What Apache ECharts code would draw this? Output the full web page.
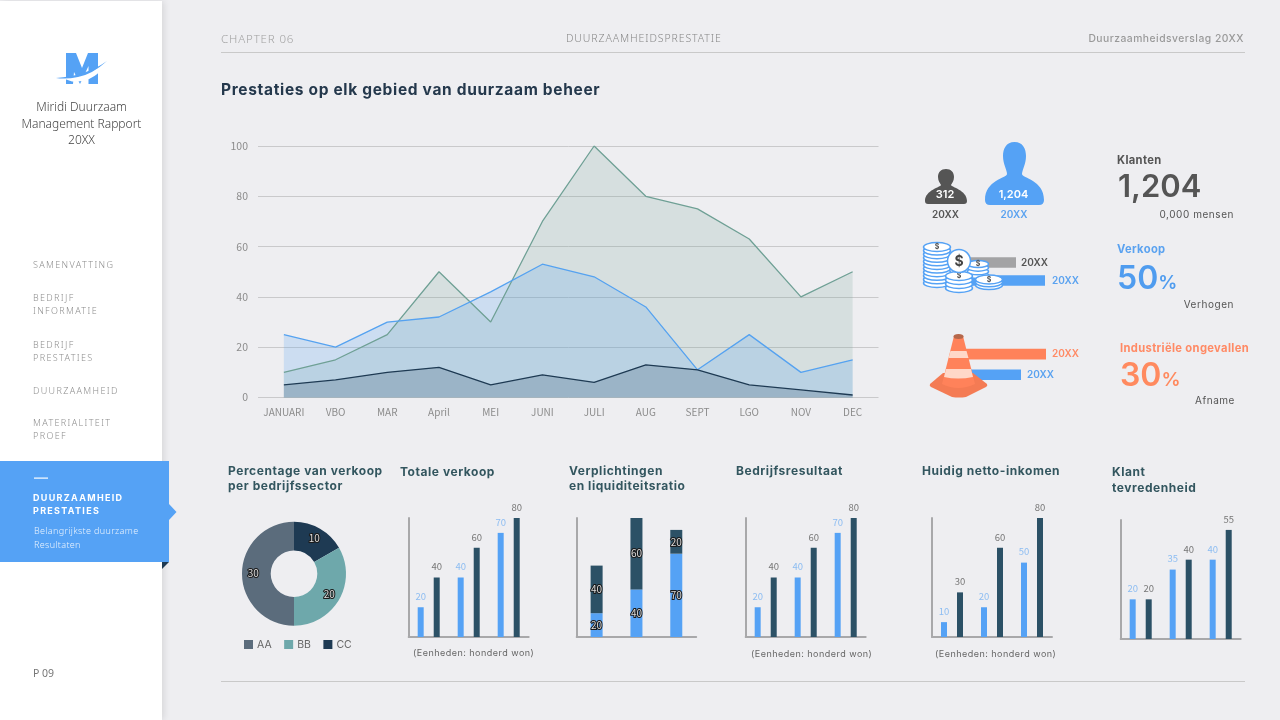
<!DOCTYPE html>
<html><head><meta charset="utf-8">
<script src="https://cdn.jsdelivr.net/npm/echarts@6/dist/echarts.min.js"></script>
<style>
html,body{margin:0;padding:0;width:1280px;height:720px;overflow:hidden;background:#eeeef1;font-family:Inter,"Noto Sans",sans-serif}
#side{position:absolute;left:0;top:1px;width:162px;height:719px;background:#fff;box-shadow:2px 0 7px rgba(0,0,0,.10)}
#active{position:absolute;left:0;top:461px;width:169px;height:101px;background:#55a2f5}
#chart{position:absolute;left:0;top:0;width:1280px;height:720px}
.t{position:absolute;transform:translateY(-50%);white-space:nowrap}
.nav{font:300 9px "Noto Sans";letter-spacing:1.35px;color:#8e8e8e;left:33px;margin-top:-.6px}
.h{font:700 12px Inter;letter-spacing:.55px;color:#33565f;margin-top:-1px}
.u{font:400 9px Inter;letter-spacing:.48px;color:#666}
.line{position:absolute;left:221px;width:1024px;height:1px;background:#c9c9c9}
.kt{font:700 11.2px Inter;letter-spacing:.35px}
.big{font:600 32px Inter;letter-spacing:0}
.big span{font-size:19px}
.sub{font:400 10px Inter;letter-spacing:.55px;color:#555}
.lab{font:600 10px Inter;transform:translate(-50%,-50%)}
</style></head><body>
<div id="side"></div><div id="active"></div>
<div id="chart"></div>

<div class="t" style="left:33px;top:673px;font:400 10.5px 'Noto Sans';color:#777">P 09</div>
<div class="t" style="left:0;width:163px;text-align:center;top:107px;font:300 12px/16.5px 'Noto Sans';color:#444;transform:translateY(-8px);white-space:pre-line">Miridi Duurzaam
Management Rapport
20XX</div>
<div class="t nav" style="top:264.5px">SAMENVATTING</div>
<div class="t nav" style="top:298px">BEDRIJF</div><div class="t nav" style="top:311px">INFORMATIE</div>
<div class="t nav" style="top:344.5px">BEDRIJF</div><div class="t nav" style="top:357.5px">PRESTATIES</div>
<div class="t nav" style="top:390.5px">DUURZAAMHEID</div>
<div class="t nav" style="top:423px">MATERIALITEIT</div><div class="t nav" style="top:435.5px">PROEF</div>
<div class="t" style="left:33px;top:497px;font:700 9px Inter;letter-spacing:1.3px;color:#fff">DUURZAAMHEID</div>
<div class="t" style="left:33px;top:509.5px;font:700 9px Inter;letter-spacing:1.3px;color:#fff">PRESTATIES</div>
<div class="t" style="left:34px;top:530px;font:300 9px 'Noto Sans';letter-spacing:.35px;color:#eaf3fe">Belangrijkste duurzame</div>
<div class="t" style="left:34px;top:544px;font:300 9px 'Noto Sans';letter-spacing:.35px;color:#eaf3fe">Resultaten</div>

<div class="t" style="left:221px;top:38px;font:300 11.5px 'Noto Sans';letter-spacing:.85px;color:#a2a2a2">CHAPTER 06</div>
<div class="t" style="left:566px;top:37.5px;font:300 10.5px 'Noto Sans';letter-spacing:.9px;color:#888">DUURZAAMHEIDSPRESTATIE</div>
<div class="t" style="right:36px;top:38px;font:500 10.3px Inter;letter-spacing:.5px;color:#999">Duurzaamheidsverslag 20XX</div>
<div class="line" style="top:52px"></div><div class="line" style="top:681px"></div>
<div class="t" style="left:221px;top:89px;font:700 15.5px Inter;letter-spacing:.67px;color:#24384c">Prestaties op elk gebied van duurzaam beheer</div>

<div class="t lab" style="left:945px;top:193.5px;color:#fff;font-size:11px">312</div>
<div class="t lab" style="left:1013.5px;top:193.5px;color:#fff;font-size:11px">1,204</div>
<div class="t lab" style="left:945.5px;top:214px;color:#555">20XX</div>
<div class="t lab" style="left:1014px;top:214px;color:#5aa2f0">20XX</div>

<div class="t kt" style="left:1117px;top:160px;color:#555">Klanten</div>
<div class="t big" style="left:1118px;top:185px;color:#555;font-size:31px">1,204</div>
<div class="t sub" style="right:46px;top:213.5px">0,000 mensen</div>
<div class="t kt" style="left:1117px;top:249px;color:#5aa2f0">Verkoop</div>
<div class="t big" style="left:1117px;top:277px;color:#4f9cef">50<span>%</span></div>
<div class="t sub" style="right:46px;top:304px">Verhogen</div>
<div class="t kt" style="left:1120px;top:347.5px;color:#ff8a65">Industriële ongevallen</div>
<div class="t big" style="left:1120px;top:374px;color:#ff8a5f">30<span>%</span></div>
<div class="t sub" style="right:45px;top:400px">Afname</div>

<div class="t h" style="left:228px;top:471px">Percentage van verkoop</div>
<div class="t h" style="left:228px;top:485.5px">per bedrijfssector</div>
<div class="t h" style="left:400px;top:471.5px">Totale verkoop</div>
<div class="t h" style="left:569px;top:471px">Verplichtingen</div>
<div class="t h" style="left:569px;top:486px">en liquiditeitsratio</div>
<div class="t h" style="left:736px;top:471px">Bedrijfsresultaat</div>
<div class="t h" style="left:922px;top:471px">Huidig netto-inkomen</div>
<div class="t h" style="left:1112px;top:472px">Klant</div>
<div class="t h" style="left:1112px;top:487.5px">tevredenheid</div>
<div class="t u" style="left:413px;top:652px">(Eenheden: honderd won)</div>
<div class="t u" style="left:751px;top:653px">(Eenheden: honderd won)</div>
<div class="t u" style="left:935px;top:653px">(Eenheden: honderd won)</div>

<script>
const months = ['JANUARI','VBO','MAR','April','MEI','JUNI','JULI','AUG','SEPT','LGO','NOV','DEC'];
const areaGreen = [10,15,25,50,30,70,100,80,75,63,40,50];
const areaBlue  = [25,20,30,32,42,53,48,36,11,25,10,15];
const areaDark  = [5,7,10,12,5,9,6,13,11,5,3,1];

const donutNames = ['CC','BB','AA'];
const donutValues = [10,20,30];
const legendOrder = ['AA','BB','CC'];

const miniCats = ['a','b','c'];
const totalBlue = [20,40,70];
const totalDark = [40,60,80];
const liabBlue = [20,40,70];
const liabDark = [40,60,20];
const resultBlue = [20,40,70];
const resultDark = [40,60,80];
const netBlue = [10,20,50];
const netDark = [30,60,80];
const satisBlue = [20,35,40];
const satisDark = [20,40,55];

const coinCats = ['grey','blue'];
const coinBars = [56,85];
const coneCats = ['orange','blue'];
const coneBars = [86,61];
const barLabel = '20XX';

const BLUE='#55a2f5', DARK='#2c5166', AXIS='#a8a8aa', FONT='"Noto Sans CJK KR","Noto Sans",sans-serif';
const grids=[],xAxes=[],yAxes=[],series=[];

function addGrid(g,x,y){
  const i=grids.length; grids.push(g);
  xAxes.push(Object.assign({gridIndex:i},x)); yAxes.push(Object.assign({gridIndex:i},y));
  return i;
}
/* main area chart */
const mainGrid=addGrid({left:258,top:146,width:620.5,height:251.5},
 {type:'category',data:months,axisLine:{show:false},axisTick:{show:false},
  axisLabel:{color:'#8c8c8c',fontFamily:FONT,fontSize:10,margin:10,interval:0}},
 {type:'value',min:0,max:100,interval:20,axisLine:{show:false},axisTick:{show:false},
  axisLabel:{color:'#8c8c8c',fontFamily:FONT,fontSize:10.5,margin:10,padding:[0,0,3,0]},
  splitLine:{lineStyle:{color:'#c9c9cb',width:1}}});
[[areaGreen,'#6fa095',.19],[areaBlue,'#55a2f0',.22],[areaDark,'#1e3a53',.2]].forEach(([d,c,a])=>{
  series.push({type:'line',xAxisIndex:mainGrid,yAxisIndex:mainGrid,data:d,symbol:'none',silent:true,
    lineStyle:{color:c,width:1.3},areaStyle:{color:c,opacity:a}});
});
/* small grouped bars */
function grouped(left,top,max,blue,dark){
  const i=addGrid({left,top,width:120,height:119},
    {type:'category',data:miniCats,axisLine:{lineStyle:{color:AXIS,width:2}},axisTick:{show:false},axisLabel:{show:false}},
    {type:'value',min:0,max,axisLine:{show:true,lineStyle:{color:AXIS,width:2}},axisTick:{show:false},axisLabel:{show:false},splitLine:{show:false}});
  series.push({type:'bar',xAxisIndex:i,yAxisIndex:i,data:blue,barWidth:6,barGap:'167%',itemStyle:{color:BLUE},
    label:{show:true,position:'top',distance:6,color:'#8dbdf2',fontFamily:FONT,fontSize:9.5}});
  series.push({type:'bar',xAxisIndex:i,yAxisIndex:i,data:dark,barWidth:6,barGap:'167%',itemStyle:{color:DARK},
    label:{show:true,position:'top',distance:6,color:'#777',fontFamily:FONT,fontSize:9.5}});
}
grouped(408.7,518,80,totalBlue,totalDark);
grouped(745.7,518,80,resultBlue,resultDark);
grouped(932,518,80,netBlue,netDark);
grouped(1120.7,520,60,satisBlue,satisDark);
/* stacked bars */
const st=addGrid({left:576.7,top:518,width:119.5,height:119},
  {type:'category',data:miniCats,axisLine:{lineStyle:{color:AXIS,width:2}},axisTick:{show:false},axisLabel:{show:false}},
  {type:'value',min:0,max:100,axisLine:{show:true,lineStyle:{color:AXIS,width:2}},axisTick:{show:false},axisLabel:{show:false},splitLine:{show:false}});
[[liabBlue,BLUE],[liabDark,DARK]].forEach(([d,c])=>series.push({type:'bar',stack:'s',xAxisIndex:st,yAxisIndex:st,data:d,barWidth:12,itemStyle:{color:c},
  label:{show:true,position:'inside',color:'#dcdcdc',fontFamily:FONT,fontSize:10,textBorderColor:'#1a1a1a',textBorderWidth:2}}));
/* infographic bars */
function hbars(top,height,cats,vals,cols,labCols,dists){
  const i=addGrid({left:960,top,width:100,height},
    {type:'value',min:0,max:100,show:false},
    {type:'category',data:cats,inverse:true,show:false});
  series.push({type:'bar',xAxisIndex:i,yAxisIndex:i,barWidth:10.6,
    data:vals.map((v,k)=>({value:v,itemStyle:{color:cols[k]},label:{color:labCols[k],distance:dists[k]}})),
    label:{show:true,position:'right',formatter:barLabel,fontFamily:'Inter',fontWeight:600,fontSize:10}});
}
hbars(253.5,36,coinCats,coinBars,['#a3a3a5','#55a2f5'],['#555','#5aa2f0'],[5,7]);
hbars(343.8,41.2,coneCats,coneBars,['#ff825a','#55a2f5'],['#ff8a65','#5aa2f0'],[6,6]);
/* donut */
const donutColors={AA:'#5b6c7c',BB:'#6ea8ab',CC:'#1e3a53'};
series.push({type:'pie',center:[294,573.7],radius:[23.3,52],startAngle:90,clockwise:true,silent:true,
  data:donutNames.map((n,i)=>({name:n,value:donutValues[i],itemStyle:{color:donutColors[n]}})),
  label:{show:true,position:'inside',formatter:'{c}',color:'#dcdcdc',fontFamily:FONT,fontSize:10,textBorderColor:'#1a1a1a',textBorderWidth:2},
  labelLine:{show:false}});

/* decorative pictures */
const deco=[];
const Z=60;
let shapeNo=0;
function P(d,z,style){
  const name='decoPath'+(shapeNo++);
  echarts.graphic.registerShape(name,echarts.graphic.extendPath(d,{}));
  deco.push({type:name,z,silent:true,style});
}
function ell(cx,cy,rx,ry){return `M${cx-rx},${cy} A${rx},${ry} 0 1 0 ${cx+rx},${cy} A${rx},${ry} 0 1 0 ${cx-rx},${cy} Z`;}
deco.push({type:'polygon',z:Z,shape:{points:[[162,562],[169,562],[162,569]]},style:{fill:'#1e3a53'}});
deco.push({type:'polygon',z:Z,shape:{points:[[169,504],[176.5,512],[169,520]]},style:{fill:'#55a2f5'}});
deco.push({type:'rect',z:Z,shape:{x:34,y:477.5,width:14,height:1.2},style:{fill:'#fff'}});
/* logo */
P('M66,84 L66,53 L76,53 L82,68 L88,53 L98,53 L98,84 L88.5,84 L88.5,66 L80,84 L74,72 L73,84 Z',Z,{fill:'#55a2f5'});
P('M62,78 Q88,78 107,61 Q96,83 72,81.5 Z',Z+1,{fill:'#fff'});
P('M56,78 Q86,76 107,61 Q92,74.5 78,77 Q66,79.5 56,78 Z',Z+2,{fill:'#55a2f5'});
/* people */
P('M946,169 C941,169 938,172 938,177 C938,181 940,183 941,185 C941,187 925,190 925,201 Q925,204 928,204 L964,204 Q967,204 967,201 C967,190 951,187 951,185 C952,183 954,181 954,177 C954,172 951,169 946,169 Z',Z,{fill:'#555'});
P('M1014.5,142 C1006,142 1003,149 1003,156 C1003,164 1007,170 1007,174 C1007,178 985,180 985,200 Q985,205 990,205 L1039,205 Q1044,205 1044,200 C1044,180 1022,178 1022,174 C1022,170 1026,164 1026,156 C1026,149 1023,142 1014.5,142 Z',Z,{fill:'#55a2f5'});
/* coins */
function stack(cx,topY,rx,layers,z,step){
  const ry=rx*.33;
  for(let k=layers;k>=0;k--){
    P(ell(cx,topY+k*step,rx,ry),z+(layers-k)*.01,{fill:'#fff',stroke:'#55a2f5',lineWidth:1.5});
  }
  deco.push({type:'text',z:z+.5,style:{x:cx,y:topY,text:'$',font:'700 7px Inter',fill:'#555',align:'center',verticalAlign:'middle'}});
}
stack(978,264,10.5,3,Z,3.7);
stack(937,247,13.5,10,Z+1,3.6);
stack(959,276,13.5,3,Z+2,4);
stack(989,279.5,13.5,2,Z+3,2.8);
deco.push({type:'circle',z:Z+4,shape:{cx:959,cy:261,r:11.5},style:{fill:'#fff',stroke:'#55a2f5',lineWidth:1.5}});
deco.push({type:'text',z:Z+5,style:{x:959,y:261.5,text:'$',font:'700 14px Inter',fill:'#444',align:'center',verticalAlign:'middle'}});
/* cone */
P('M930,384 L943,373 L973,373 L987,384 Q988,386 986,387 L966,397 Q959,398 952,397 L931,387 Q929,386 930,384 Z',Z,{fill:'#f47b54'});
P('M954,336 L963,336 L975,384 Q958,392 942,384 Z',Z+1,{fill:'#ff825a'});
P('M950.5,351 L966.5,351 L968.5,358 L948.5,358 Z',Z+2,{fill:'#ffd8c8'});
P('M946,369 L971,369 L973,377 Q958,380 944,377 Z',Z+2,{fill:'#ffd8c8'});
P(ell(958.5,336.5,5,2.5),Z+2,{fill:'#b5674b'});

const chart=echarts.init(document.getElementById('chart'),null,{renderer:'canvas'});
chart.setOption({
  animation:false,
  grid:grids,xAxis:xAxes,yAxis:yAxes,series,
  legend:{left:239,top:634,itemWidth:9,itemHeight:9,itemGap:12.5,selectedMode:false,icon:'rect',data:legendOrder,
    textStyle:{color:'#666',fontFamily:'Inter',fontSize:10.5,padding:[0,0,0,-1]}},
  graphic:{elements:deco}
});
</script>
</body></html>
